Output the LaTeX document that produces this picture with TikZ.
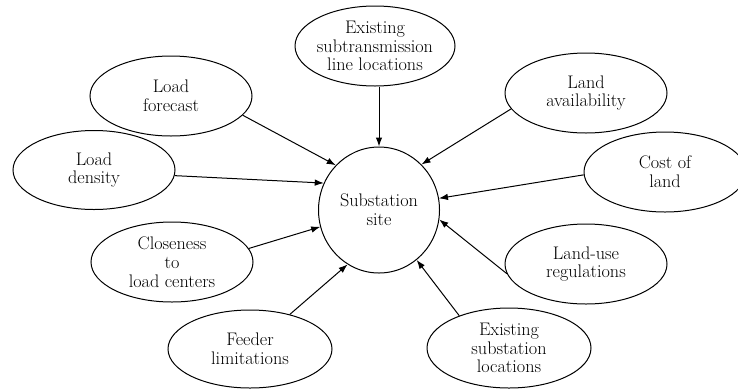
\documentclass[tikz,border=0pt]{standalone}
\usetikzlibrary{shapes.geometric,arrows.meta}
\tikzset{
  ell/.style={draw, line width=1pt, ellipse, inner sep=0pt, minimum width=162pt, minimum height=80pt},
  hub/.style={draw, line width=1pt, ellipse, inner sep=0pt, minimum width=121pt, minimum height=126pt},
  txt/.style={align=center, inner sep=0pt, font=\fontsize{18.2}{18.8}\selectfont},
  arr/.style={line width=1pt, -{Latex[length=9pt,width=6.5pt]}}
}
\begin{document}
\begin{tikzpicture}[x=1pt,y=-1pt]
\useasboundingbox (0,0) rectangle (738,389);
% hub
\node[hub] (c) at (379,210) {};
\node[txt] (ct) at (c) {Substation\\site};
% outer nodes
\node[ell, minimum width=160pt] (st) at (375,46) {};
\node[txt] (stt) at (st) {Existing\\subtransmission\\line locations};
\node[ell] (lf) at (171,96) {};
\node[txt] (lft) at (lf) {Load\\forecast};
\node[ell, minimum height=79pt] (ld) at (94,170) {};
\node[txt] (ldt) at (ld) {Load\\density};
\node[ell] (la) at (586,93) {};
\node[txt] (lat) at (la) {Land\\availability};
\node[ell] (cl) at (665,172) {};
\node[txt] (clt) at (cl) {Cost of\\land};
\node[ell] (cc) at (172,262) {};
\node[txt] (cct) at (cc) {Closeness\\to\\load centers};
\node[ell] (lu) at (586,264) {};
\node[txt] (lut) at (lu) {Land-use\\regulations};
\node[ell, minimum width=164pt, minimum height=78pt] (fl) at (250,349) {};
\node[txt] (flt) at (fl) {Feeder\\limitations};
\node[ell, minimum width=164pt] (es) at (509,348) {};
\node[txt] (est) at (es) {Existing\\substation\\locations};
% connectors
\draw[arr] (st.south -| c.north) -- (c.north);
\draw[arr] (lf.-15) -- (c.134);
\draw[arr] (ld.-4) -- (c.154);
\draw[arr] (la.192) -- (c.47);
\draw[arr] (cl.182) -- (c.11);
\draw[arr] (cc.10) -- (c.196);
\draw[arr] (fl.41) -- (c.240);
\draw[arr] (es.147) -- (c.-53);
\draw[arr] (lu.187) -- (c.-9);
\end{tikzpicture}
\end{document}
